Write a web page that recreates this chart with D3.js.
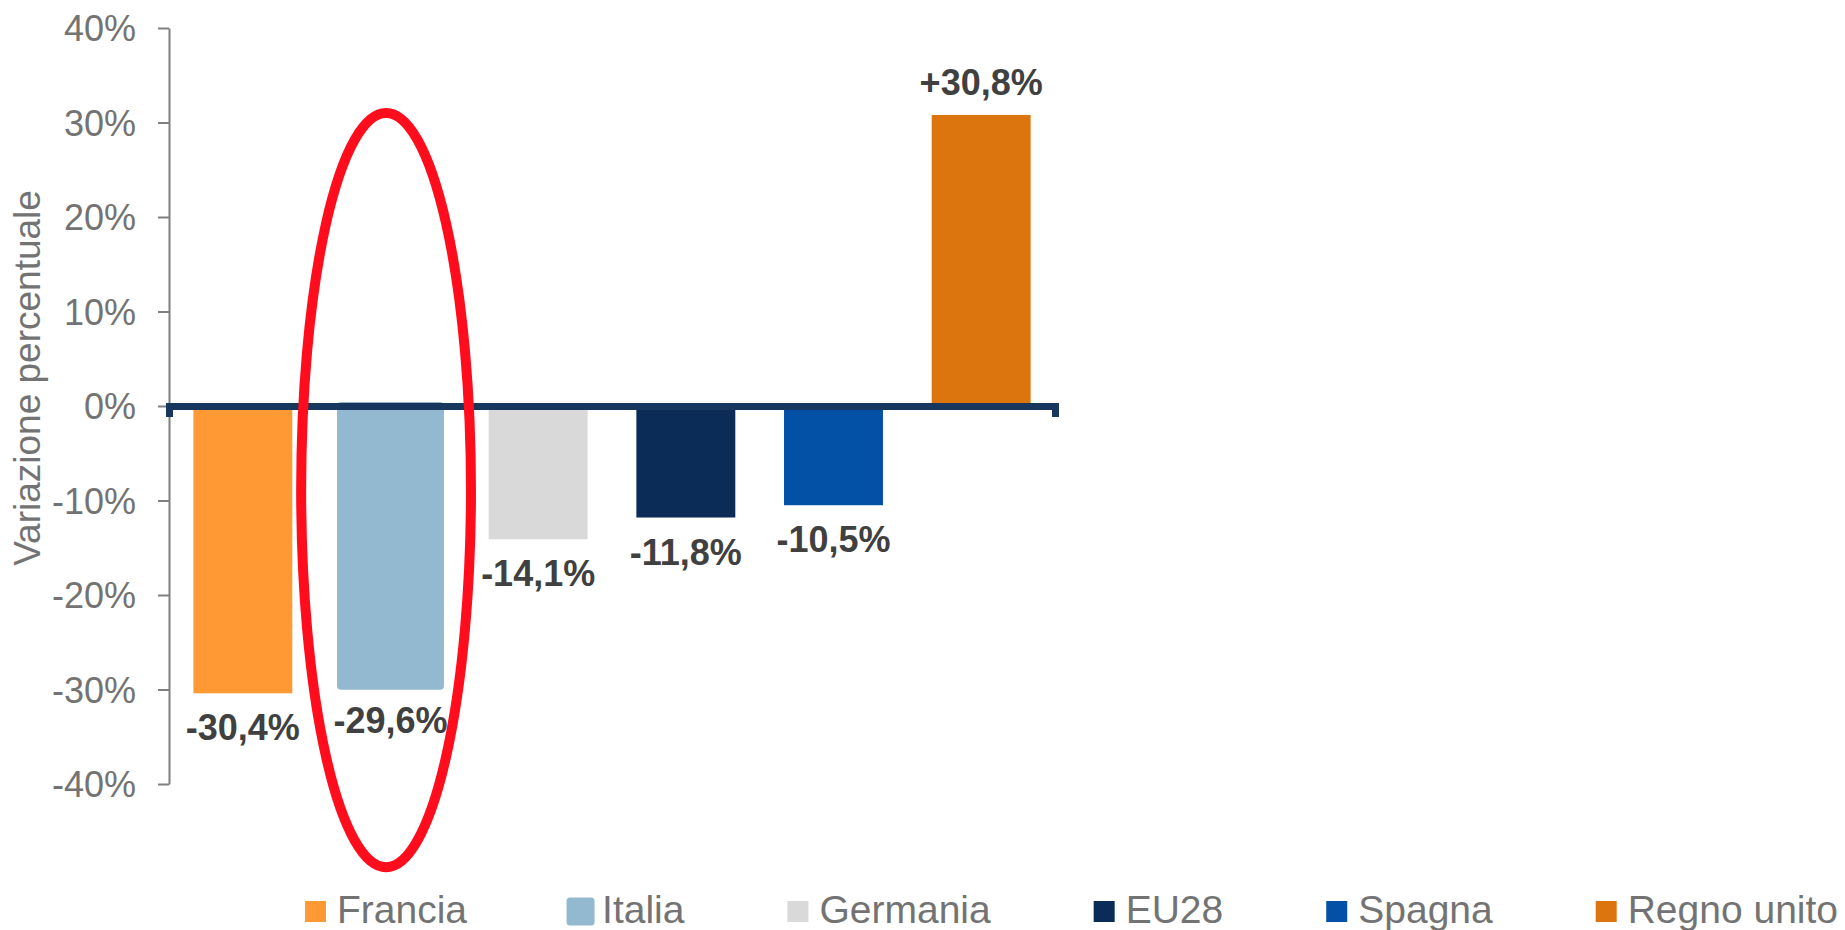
<!DOCTYPE html>
<html>
<head>
<meta charset="utf-8">
<script src="https://cdn.jsdelivr.net/npm/d3@7"></script>
<style>
  body { margin: 0; background: white; }
  svg { display: block; font-family: "Liberation Sans", Arial, sans-serif; }
</style>
</head>
<body>
<div class="chart"></div>
<script>

// data
var paesi = ["Francia", "Italia", "Germania", "EU28", "Spagna", "Regno unito"];
var variazioni = [-30.4, -29.6, -14.1, -11.8, -10.5, 30.8];
var etichette = ["-30,4%", "-29,6%", "-14,1%", "-11,8%", "-10,5%", "+30,8%"];
var colori = ["#FF9933", "#93B9D0", "#D9D9D9", "#0A2C57", "#0350A7", "#DD750F"];
var yTicks = [-40, -30, -20, -10, 0, 10, 20, 30, 40];

var evidenziato = "Italia";

function barChart() {

  var width = 1845;
  var height = 930;
  var margin = {top: 28, right: 790, bottom: 146, left: 169};

  var data = paesi.map((p, i) => ({paese: p, valore: variazioni[i], label: etichette[i], colore: colori[i]}));

  var svg = d3.select(".chart").append("svg")
    .attr("width", width)
    .attr("height", height);

  var x = d3.scaleBand()
    .domain(paesi)
    .range([margin.left, width - margin.right])
    .paddingInner(0.33)
    .paddingOuter(0.165);

  var y = d3.scaleLinear()
    .domain([-40, 40])
    .range([height - margin.bottom, margin.top]);

  // y axis
  var yAxis = svg.append("g")
    .attr("transform", "translate(" + margin.left + ",0)")
    .call(d3.axisLeft(y)
      .tickValues(yTicks)
      .tickSize(11)
      .tickSizeOuter(0)
      .tickPadding(22)
      .tickFormat(d => d + "%"));

  yAxis.select(".domain").attr("stroke", "#7f7f7f").attr("stroke-width", 2);
  yAxis.selectAll(".tick line").attr("stroke", "#7f7f7f").attr("stroke-width", 2);
  yAxis.selectAll(".tick text")
    .attr("fill", "#737373")
    .style("font-size", "36px")
    .attr("dy", "0.36em");

  svg.append("text")
    .attr("transform", "translate(40," + 378 + ") rotate(-90)")
    .attr("text-anchor", "middle")
    .attr("fill", "#737373")
    .style("font-size", "37px")
    .text("Variazione percentuale");

  // bars
  svg.append("g")
    .selectAll("rect")
    .data(data)
    .enter()
    .append("rect")
    .attr("x", d => x(d.paese))
    .attr("width", x.bandwidth())
    .attr("y", d => y(Math.max(0, d.valore)))
    .attr("height", d => Math.abs(y(d.valore) - y(0)))
    .attr("fill", d => d.colore)
    .attr("stroke", d => d.paese == evidenziato ? d.colore : "none")
    .attr("stroke-width", 8)
    .attr("stroke-linejoin", "round");

  // zero line with the little end ticks
  var xAxis = svg.append("g")
    .attr("transform", "translate(0," + y(0) + ")")
    .call(d3.axisBottom(x).tickSizeInner(0).tickSizeOuter(11).tickFormat(""));

  xAxis.select(".domain")
    .attr("stroke", "#17375E")
    .attr("stroke-width", 7);
  xAxis.selectAll(".tick").remove();

  // value labels
  svg.append("g")
    .selectAll("text")
    .data(data)
    .enter()
    .append("text")
    .attr("x", d => x(d.paese) + x.bandwidth() / 2)
    .attr("y", d => y(d.valore))
    .attr("dy", d => d.valore < 0 ? 47 : -20)
    .attr("text-anchor", "middle")
    .attr("fill", "#404040")
    .style("font-size", "36px")
    .style("font-weight", "bold")
    .text(d => d.label);

  // red ellipse around Italia (drawn by hand in the original, a bit left of the bar)
  var cx = x(evidenziato) + x.bandwidth() / 2 - x.step() * 0.03;
  svg.append("ellipse")
    .attr("cx", cx)
    .attr("cy", (y(31) + y(-48.8)) / 2)
    .attr("rx", x.step() * 0.575)
    .attr("ry", (y(-48.8) - y(31)) / 2)
    .attr("fill", "none")
    .attr("stroke", "#FF0D1D")
    .attr("stroke-width", 10);

  // legend
  var legend = svg.append("g");
  var lx = 305;
  data.forEach(function(d) {
    legend.append("rect")
      .attr("x", lx)
      .attr("y", 901)
      .attr("width", 21)
      .attr("height", 21)
      .attr("fill", d.colore)
      .attr("stroke", d.paese == evidenziato ? d.colore : "none")
      .attr("stroke-width", 7)
      .attr("stroke-linejoin", "round");
    var t = legend.append("text")
      .attr("x", lx + 32)
      .attr("y", 923)
      .attr("fill", "#737373")
      .style("font-size", "39px")
      .text(d.paese);
    lx = lx + 32 + t.node().getComputedTextLength() + 103;
  });
}

barChart();
</script>
</body>
</html>
